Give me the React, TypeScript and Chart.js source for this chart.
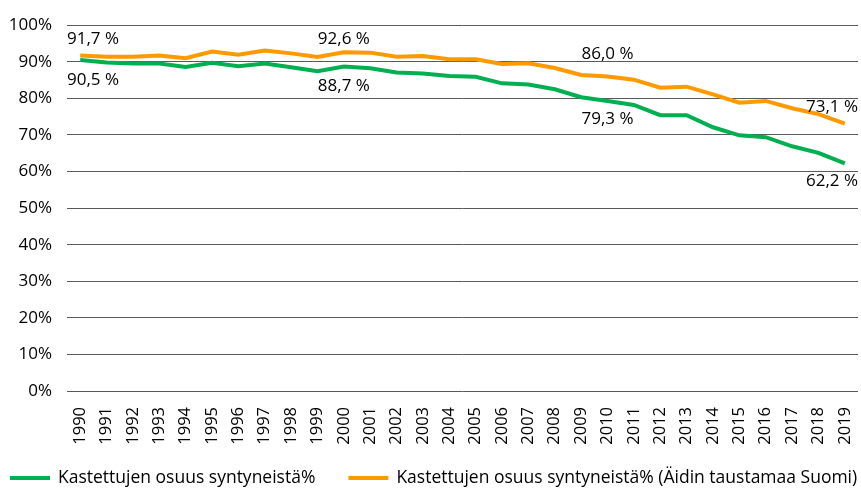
import React, { useEffect, useRef } from "react";
import { Chart, registerables } from "chart.js";

Chart.register(...registerables);

const years = [
  "1990", "1991", "1992", "1993", "1994", "1995", "1996", "1997", "1998", "1999",
  "2000", "2001", "2002", "2003", "2004", "2005", "2006", "2007", "2008", "2009",
  "2010", "2011", "2012", "2013", "2014", "2015", "2016", "2017", "2018", "2019",
];

const seriesAllLabel = "Kastettujen osuus syntyneistä%";
const seriesAll = [
  90.5, 89.8, 89.5, 89.5, 88.6, 89.7, 88.8, 89.5, 88.5, 87.4,
  88.7, 88.2, 87.1, 86.8, 86.1, 85.9, 84.1, 83.8, 82.5, 80.3,
  79.3, 78.2, 75.4, 75.4, 72.1, 69.9, 69.4, 66.9, 65.1, 62.2,
];

const seriesFinLabel = "Kastettujen osuus syntyneistä% (Äidin taustamaa Suomi)";
const seriesFin = [
  91.7, 91.4, 91.4, 91.7, 91.0, 92.8, 91.9, 93.1, 92.3, 91.3,
  92.6, 92.5, 91.4, 91.6, 90.7, 90.7, 89.4, 89.6, 88.3, 86.4,
  86.0, 85.1, 82.9, 83.2, 81.1, 78.8, 79.3, 77.3, 75.7, 73.1,
];

const labelledIndices = [0, 10, 20, 29];
// vertical shift (px) of each value label from its point, per series
const labelShiftAll = [20, 20, 18, 18];
const labelShiftFin = [-16, -13, -22, -16];

const GREEN = "#00B050";
const ORANGE = "#FF9900";
const FONT = "'Open Sans', 'DejaVu Sans', sans-serif";
const TEXT = "#000000";

const fmt = (v: number) => v.toFixed(1).replace(".", ",") + " %";

const dataLabelPlugin = {
  id: "dataLabels",
  afterDatasetsDraw(chart: any) {
    const { ctx, chartArea } = chart;
    ctx.save();
    ctx.font = `17px ${FONT}`;
    ctx.fillStyle = TEXT;
    ctx.textAlign = "center";
    ctx.textBaseline = "middle";
    chart.data.datasets.forEach((ds: any, di: number) => {
      const meta = chart.getDatasetMeta(di);
      const shifts = ds.labelShift;
      labelledIndices.forEach((i, k) => {
        const pt = meta.data[i];
        if (!pt) return;
        const txt = fmt(ds.data[i]);
        const w = ctx.measureText(txt).width;
        let x = pt.x;
        x = Math.max(chartArea.left + w / 2, Math.min(chartArea.right - w / 2, x));
        ctx.fillText(txt, x, pt.y + shifts[k]);
      });
    });
    ctx.restore();
  },
};

const legendPlugin = {
  id: "lineLegend",
  afterDraw(chart: any) {
    const { ctx } = chart;
    ctx.save();
    ctx.font = `17.5px ${FONT}`;
    ctx.textBaseline = "middle";
    ctx.textAlign = "left";
    const y = 478;
    let x = 10;
    chart.data.datasets.forEach((ds: any) => {
      ctx.strokeStyle = ds.borderColor;
      ctx.lineWidth = 4;
      ctx.beginPath();
      ctx.moveTo(x, y);
      ctx.lineTo(x + 40, y);
      ctx.stroke();
      ctx.fillStyle = TEXT;
      ctx.fillText(ds.label, x + 48, y);
      x += 48 + ctx.measureText(ds.label).width + 33;
    });
    ctx.restore();
  },
};

export default function App() {
  const canvasRef = useRef<HTMLCanvasElement | null>(null);

  useEffect(() => {
    if (!canvasRef.current) return;
    const chart = new Chart(canvasRef.current, {
      type: "line",
      data: {
        labels: years,
        datasets: [
          {
            label: seriesAllLabel,
            data: seriesAll,
            borderColor: GREEN,
            backgroundColor: GREEN,
            borderWidth: 4,
            pointRadius: 0,
            tension: 0,
            fill: false,
            labelShift: labelShiftAll,
          } as any,
          {
            label: seriesFinLabel,
            data: seriesFin,
            borderColor: ORANGE,
            backgroundColor: ORANGE,
            borderWidth: 4,
            pointRadius: 0,
            tension: 0,
            fill: false,
            labelShift: labelShiftFin,
          } as any,
        ],
      },
      options: {
        animation: false,
        responsive: true,
        maintainAspectRatio: false,
        layout: { padding: { left: 0, right: 3, top: 20, bottom: 38 } },
        plugins: {
          legend: { display: false },
          tooltip: { enabled: false },
        },
        scales: {
          x: {
            type: "category",
            offset: true,
            grid: { display: false, drawTicks: false },
            border: { display: false },
            ticks: {
              autoSkip: false,
              minRotation: 90,
              maxRotation: 90,
              padding: 16,
              color: TEXT,
              font: { family: FONT, size: 16.5 },
            },
            afterFit: (scale: any) => {
              scale.height = 60;
              scale.paddingLeft = 0;
              scale.paddingRight = 0;
            },
          },
          y: {
            min: 0,
            max: 100,
            grid: { color: "#5a5a5a", lineWidth: 1, drawTicks: false },
            border: { display: false },
            ticks: {
              stepSize: 10,
              padding: 15,
              color: TEXT,
              font: { family: FONT, size: 17 },
              callback: (v: any) => `${v}%`,
            },
            afterFit: (scale: any) => {
              scale.width = 67;
            },
          },
        },
      },
      plugins: [dataLabelPlugin, legendPlugin],
    });
    return () => chart.destroy();
  }, []);

  return (
    <div style={{ position: "absolute", left: 0, top: 0, width: 861, height: 489, background: "#ffffff" }}>
      <canvas ref={canvasRef} />
    </div>
  );
}
